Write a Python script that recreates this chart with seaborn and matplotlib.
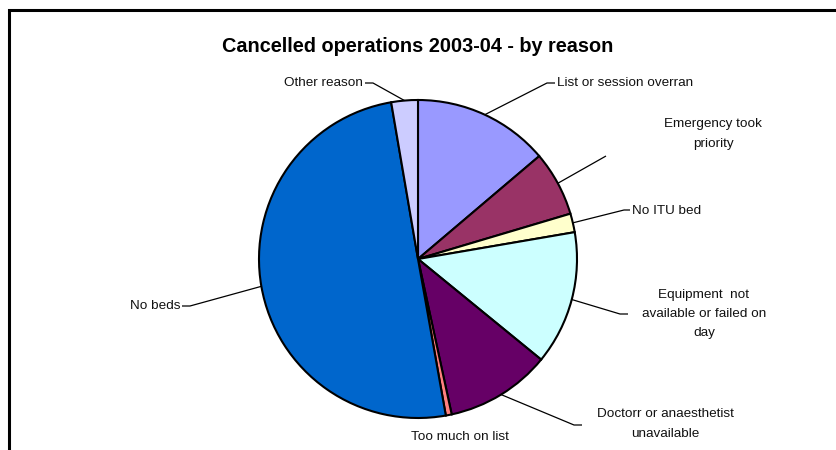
import numpy as np
import matplotlib
matplotlib.use("Agg")
import matplotlib.pyplot as plt
import seaborn as sns

categories = ["List or session overran", "Emergency took priority", "No ITU bed",
              "Equipment not available or failed on day", "Doctorr or anaesthetist unavailable",
              "Too much on list", "No beds", "Other reason"]
values = [13.8, 6.6, 1.9, 13.6, 10.7, 0.6, 50.1, 2.7]
label_texts = ["List or session overran", "Emergency took\npriority", "No ITU bed",
               "Equipment  not\navailable or failed on\nday", "Doctorr or anaesthetist\nunavailable",
               "Too much on list", "No beds", "Other reason"]
colors = ["#9999FF", "#993366", "#FFFFCC", "#CCFFFF", "#660066", "#FF8080", "#0066CC", "#CCCCFF"]
title = "Cancelled operations 2003-04 - by reason"

sns.set_theme(style="white")
plt.rcParams['font.family'] = ['Liberation Sans', 'DejaVu Sans']

W, H = 836, 450
fig = plt.figure(figsize=(W / 100, H / 100), dpi=100)
ax = fig.add_axes([0, 0, 1, 1])

def py(y):
    return H - y

cx, cy, r = 418, 259, 159
wedges, _ = ax.pie(values, colors=colors, startangle=90, counterclock=False,
                   center=(cx, py(cy)), radius=r, frame=True,
                   wedgeprops=dict(edgecolor='black', linewidth=1.5))
ax.set_xlim(0, W)
ax.set_ylim(0, H)
ax.set_aspect('equal')
ax.axis('off')

# label placement: (text x, text y, ha, line end x, line end y, horizontal tail end x)
placements = [
    (557, 83, 'left', 547, 83, 555),
    (713, 134, 'center', 606, 156, 606),
    (632, 211, 'left', 624, 210, 630),
    (704, 314, 'center', 620, 314, 628),
    (665, 424, 'center', 574, 425, 582),
    (460, 437, 'center', None, None, None),
    (180, 306, 'right', 190, 306, 182),
    (363, 83, 'right', 373, 83, 365),
]

for w, txt, (tx, ty, ha, lx, ly, hx) in zip(wedges, label_texts, placements):
    ang = np.deg2rad((w.theta1 + w.theta2) / 2)
    ex = cx + r * np.cos(ang)
    ey = py(cy) + r * np.sin(ang)
    if lx is not None:
        ax.plot([ex, lx, hx], [ey, py(ly), py(ly)], color='black', lw=0.9,
                solid_capstyle='butt')
    ax.text(tx, py(ty), txt, ha=ha, va='center', fontsize=9.7, color='#111111',
            linespacing=1.8)

ax.text(418, py(46), title, ha='center', va='center', fontsize=14.3,
        fontweight='bold', color='black')

# chart frame
ax.plot([9, 9, W + 5], [-5, py(10), py(10)], color='black', lw=2.2,
        solid_joinstyle='miter')

fig.savefig("out.png", dpi=100)
